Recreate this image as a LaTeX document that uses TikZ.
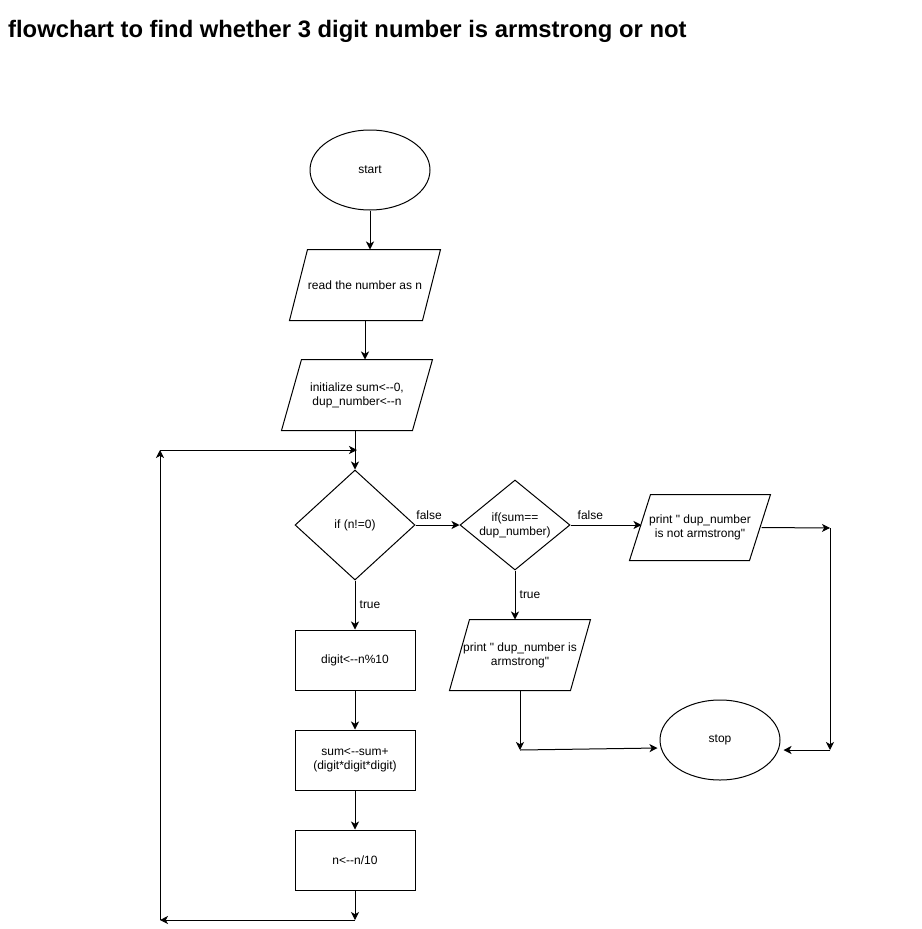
\documentclass[tikz,border=0pt]{standalone}
\usepackage{fontspec}
\setmainfont{Liberation Sans}[Ligatures=TeXOff]
\usetikzlibrary{shapes.geometric,arrows.meta}
\begin{document}
\begin{tikzpicture}[x=1pt,y=-1pt,
  base/.style={font=\fontsize{12}{14}\selectfont, align=center, inner sep=0pt, line width=1pt},
  term/.style={base, draw, ellipse, minimum width=120pt, minimum height=80pt},
  proc/.style={base, draw, rectangle, minimum width=120pt, minimum height=60pt},
  dec/.style={base, draw, diamond, aspect=1.2},
  io/.style={base, rectangle, draw=none},
  arr/.style={line width=1pt, -{Stealth[length=8pt,width=8pt,inset=2.2pt]}},
  ln/.style={line width=1pt},
  lbl/.style={font=\fontsize{12}{14}\selectfont, inner sep=0pt}]
\useasboundingbox (0,0) rectangle (921,929);

\node[anchor=base west, inner sep=0pt, font=\fontsize{23.8}{28}\selectfont\bfseries] (title) at (8,37)
  {flowchart to find whether 3 digit number is armstrong or not};

% nodes
\node[term] (start) at (370,170) {start};
\node[io, minimum width=150pt, minimum height=70pt] (p1) at (365,285) {read the number as n};
\node[io, minimum width=150pt, minimum height=70pt] (p2) at (357,395) {initialize sum<--0,\\dup\_number<--n};
\node[dec, minimum width=120pt, minimum height=110pt] (d1) at (355,525) {if (n!=0)};
\node[dec, minimum width=110pt, minimum height=90pt] (d2) at (515,525) {if(sum==\\dup\_number)};
\node[io, minimum width=140pt, minimum height=65pt] (p3) at (700,527.5) {print " dup\_number\\is not armstrong"};
\node[io, minimum width=140pt, minimum height=70pt] (p4) at (520,655) {print " dup\_number is\\armstrong"};
\node[term] (stop) at (720,740) {stop};
\node[proc] (r1) at (355,660) {digit<--n\%10};
\node[proc] (r2) at (355,760) {sum<--sum+\\(digit*digit*digit)};
\node[proc] (r3) at (355,860) {n<--n/10};

% parallelogram outlines
\foreach \n/\s in {p1/18,p2/20,p3/21,p4/20}
  \draw[ln] ([xshift=\s pt]\n.north west) -- (\n.north east)
    -- ([xshift=-\s pt]\n.south east) -- (\n.south west) -- cycle;

% free connector ends
\coordinate (c1) at (830,528);
\coordinate (c2) at (830,750);
\coordinate (c3) at (520,750);
\coordinate (c4) at (355,920);
\coordinate (c5) at (160,920);
\coordinate (c6) at (160,450);
\coordinate (c7) at (357,450);

% connectors
\draw[arr] (start.south) -- (start.south |- p1.north);
\draw[arr] (p1.south) -- (p1.south |- p2.north);
\draw[ln] (p2.south -| d1.north) -- (c7 -| d1.north);
\draw[arr] (c7 -| d1.north) -- (d1.north);
\draw[arr] (d1.east) -- node[lbl, pos=0.31, yshift=10pt] (f1) {false} (d2.west);
\draw[arr] (d2.east) -- node[lbl, pos=0.28, yshift=10pt] (f2) {false} ([xshift=12pt]p3.west |- d2.east);
\draw[arr] ([xshift=-9pt]p3.east) -- (c1);
\draw[arr] (c1) -- (c2);
\draw[arr] (c2) -- ([xshift=3pt,yshift=-10pt]stop.east);
\draw[arr] (d2.south) -- node[lbl, pos=0.5, xshift=15pt] (t2) {true} (d2.south |- p4.north);
\draw[arr] (p4.south) -- (c3);
\draw[arr] (c3) -- ([xshift=-2pt,yshift=-8pt]stop.west);
\draw[arr] (d1.south) -- node[lbl, pos=0.5, xshift=15pt] (t1) {true} (r1.north);
\draw[arr] (r1.south) -- (r2.north);
\draw[arr] (r2.south) -- (r3.north);
\draw[arr] (r3.south) -- (c4);
\draw[arr] (c4) -- (c5);
\draw[arr] (c5) -- (c6);
\draw[arr] (c6) -- (c7);
\end{tikzpicture}
\end{document}
